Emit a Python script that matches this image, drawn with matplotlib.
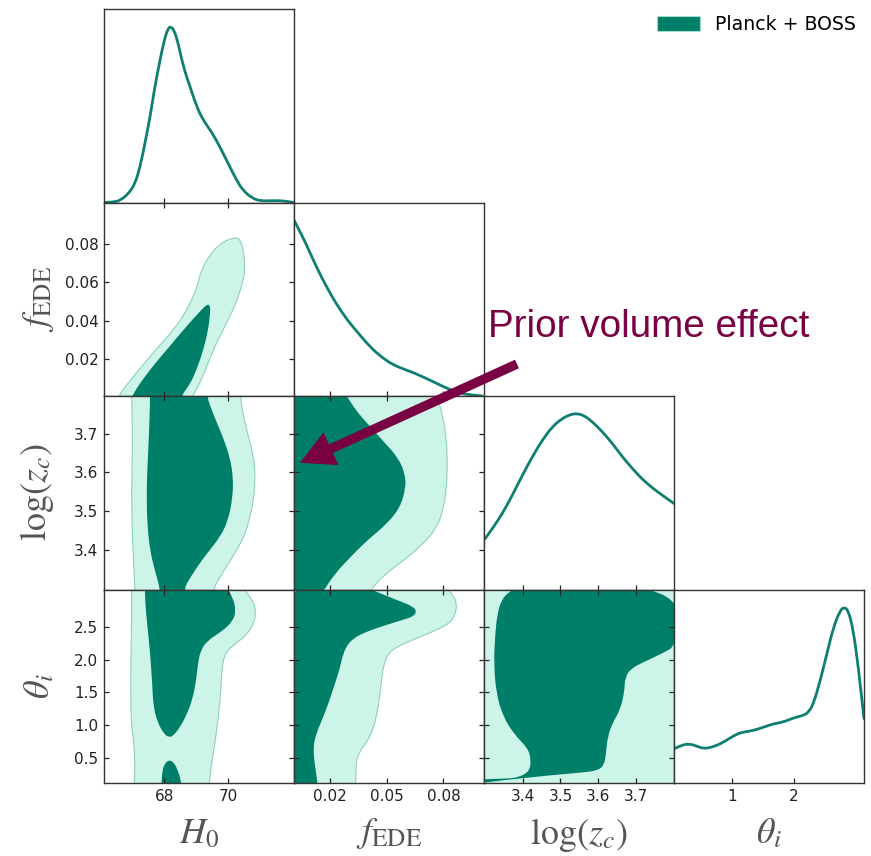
import numpy as np
import matplotlib.pyplot as plt
from matplotlib.path import Path
from matplotlib.patches import PathPatch, Patch, ConnectionPatch

plt.rcParams['mathtext.fontset'] = 'stix'
plt.rcParams['font.family'] = ['DejaVu Sans']

DARK = '#007f68'
LIGHT = '#cdf4e9'
EDGE = '#8fcfbe'
LINE = '#0f7f71'
ARROW = '#7a0044'
LABEL = '#555555'

# ---- axis ranges / ticks ----
h0_lim = (66.12, 72.06)
fede_xlim = (0.0009, 0.1015)
fede_ylim = (0.0004, 0.1019)
zc_xlim = (3.297, 3.8015)
zc_ylim = (3.297, 3.797)
th_xlim = (0.069, 3.135)
th_ylim = (0.109, 3.077)

h0_ticks = [68, 70]
fede_xticks = [0.02, 0.05, 0.08]
fede_yticks = [0.02, 0.04, 0.06, 0.08]
zc_ticks = [3.4, 3.5, 3.6, 3.7]
th_xticks = [1, 2]
th_yticks = [0.5, 1.0, 1.5, 2.0, 2.5]

# ---- 1D marginals (normalised to peak) ----
h0_grid = [66.12, 66.41, 66.62, 66.88, 67.09, 67.245, 67.40, 67.56, 67.71, 67.87,
           68.03, 68.13, 68.20, 68.31, 68.44, 68.60, 68.81, 69.02, 69.22, 69.485,
           69.745, 70.005, 70.27, 70.47, 70.735, 71.00, 71.41, 71.72, 72.06]
h0_pdf = [0.0, 0.002, 0.011, 0.049, 0.106, 0.2015, 0.335, 0.487, 0.658, 0.810,
          0.943, 0.990, 1.0, 0.981, 0.905, 0.772, 0.658, 0.544, 0.468, 0.401,
          0.316, 0.2205, 0.125, 0.068, 0.027, 0.008, 0.011, 0.0095, 0.0]

fede_grid = [0.00089, 0.0055, 0.00947, 0.01344, 0.01841, 0.02339, 0.02937, 0.0353,
             0.04128, 0.04726, 0.05324, 0.05923, 0.06516, 0.07114, 0.07712, 0.0831,
             0.08908, 0.09501, 0.10048]
fede_pdf = [1.0, 0.906, 0.812, 0.719, 0.615, 0.522, 0.428, 0.353, 0.278, 0.221,
            0.178, 0.152, 0.128, 0.099, 0.068, 0.038, 0.015, 0.006, 0.0]

zc_grid = [3.30, 3.3194, 3.3459, 3.3724, 3.3989, 3.4255, 3.4520, 3.4785, 3.5050,
           3.5273, 3.5448, 3.5626, 3.5846, 3.6111, 3.6377, 3.6642, 3.6907, 3.7172,
           3.7438, 3.7703, 3.8013]
zc_pdf = [0.289, 0.346, 0.432, 0.536, 0.650, 0.755, 0.850, 0.926, 0.973, 0.996,
          1.0, 0.989, 0.954, 0.897, 0.831, 0.755, 0.688, 0.627, 0.578, 0.536, 0.489]

th_grid = [0.074, 0.181, 0.315, 0.449, 0.555, 0.690, 0.823, 0.957, 1.091, 1.198,
           1.358, 1.518, 1.679, 1.839, 2.0, 2.160, 2.241, 2.321, 2.429, 2.536,
           2.642, 2.750, 2.814, 2.883, 2.963, 3.043, 3.135]
th_pdf = [0.195, 0.214, 0.2235, 0.208, 0.195, 0.2045, 0.2235, 0.252, 0.280, 0.290,
          0.299, 0.318, 0.337, 0.347, 0.371, 0.384, 0.403, 0.451, 0.583, 0.735,
          0.886, 0.981, 1.0, 0.981, 0.867, 0.659, 0.366]

# ---- 2D contours: 95% (outer) and 68% (inner) ----
# H0 - f_EDE
h0_fede_95_x = [66.55, 66.60, 66.72, 67.56, 68.50, 69.02, 69.12, 69.38, 69.74, 70.16,
                70.37, 70.48, 70.53, 70.45, 70.32, 70.11, 69.85, 69.59, 69.38, 69.17,
                69.02, 68.89, 68.86]
h0_fede_95_y = [-0.004, 0.0009, 0.0040, 0.0214, 0.0388, 0.0561, 0.0648, 0.0734, 0.0804,
                0.0835, 0.0830, 0.0769, 0.0665, 0.0596, 0.0526, 0.0440, 0.0353, 0.0266,
                0.0179, 0.0092, 0.0040, 0.0009, -0.004]
h0_fede_68_x = [66.95, 66.99, 67.56, 68.18, 68.70, 69.12, 69.36, 69.44, 69.44, 69.38,
                69.23, 69.02, 68.81, 68.55, 68.50]
h0_fede_68_y = [-0.004, 0.0009, 0.0144, 0.0266, 0.0370, 0.0448, 0.0488, 0.0475, 0.0440,
                0.0353, 0.0248, 0.0144, 0.0066, 0.0009, -0.004]

# H0 - log(z_c)
h0_zc_95_x = [66.98, 66.985, 67.005, 67.005, 66.985, 66.995, 67.036, 67.09, 67.10,
              69.50, 69.54, 69.745, 70.00, 70.32, 70.53, 70.68, 70.81, 70.85, 70.79,
              70.53, 70.37, 70.34]
h0_zc_95_y = [3.85, 3.797, 3.723, 3.637, 3.552, 3.466, 3.380, 3.300, 3.25,
              3.25, 3.300, 3.329, 3.363, 3.406, 3.440, 3.483, 3.534, 3.595, 3.646,
              3.723, 3.797, 3.85]
h0_zc_68_x = [67.56, 67.56, 67.54, 67.49, 67.45, 67.47, 67.56, 67.71, 67.87, 67.92,
              68.62, 68.65, 68.70, 69.02, 69.33, 69.745, 70.00, 70.14, 70.16, 70.06,
              69.85, 69.54, 69.33, 69.28]
h0_zc_68_y = [3.85, 3.797, 3.723, 3.637, 3.552, 3.466, 3.397, 3.346, 3.300, 3.25,
              3.25, 3.300, 3.312, 3.354, 3.389, 3.432, 3.475, 3.534, 3.586, 3.637,
              3.689, 3.749, 3.797, 3.85]

# f_EDE - log(z_c)
fede_zc_95_x = [0.0740, 0.0765, 0.0791, 0.0814, 0.0821, 0.0818, 0.0803, 0.0765, 0.0694,
                0.0588, 0.0482, 0.0421, 0.0395, -0.01, -0.01]
fede_zc_95_y = [3.826, 3.797, 3.757, 3.697, 3.637, 3.569, 3.509, 3.457, 3.415,
                3.372, 3.333, 3.300, 3.277, 3.277, 3.826]
fede_zc_68_x = [0.0249, 0.0288, 0.0341, 0.0403, 0.0482, 0.0562, 0.0597, 0.0601, 0.0571,
                0.0500, 0.0394, 0.0306, 0.0226, 0.0174, 0.0142, -0.01, -0.01]
fede_zc_68_y = [3.826, 3.797, 3.757, 3.723, 3.680, 3.637, 3.595, 3.560, 3.509,
                3.466, 3.423, 3.380, 3.338, 3.300, 3.277, 3.277, 3.826]

# H0 - theta_i
h0_th_95_x = [66.985, 66.985, 66.985, 66.964, 66.954, 66.964, 67.036, 67.09, 67.07, 67.06,
              69.39, 69.41, 69.49, 69.59, 69.69, 69.77, 69.81, 69.93, 70.21, 70.58,
              70.81, 70.87, 70.786, 70.473, 70.40]
h0_th_95_y = [3.2, 3.092, 2.639, 2.123, 1.608, 1.094, 0.784, 0.475, 0.114, 0.0,
              0.0, 0.114, 0.423, 0.732, 1.094, 1.505, 1.917, 2.123, 2.237, 2.381,
              2.562, 2.741, 2.896, 3.092, 3.2]
h0_th_68_x = [67.40, 69.85, 70.16, 70.245, 70.14, 69.80, 69.38, 69.14, 69.05, 68.995,
              68.89, 68.72, 68.495, 68.29, 68.15, 67.995, 67.79, 67.66, 67.63, 67.56,
              67.45, 67.40]
h0_th_68_y = [3.2, 3.2, 2.948, 2.741, 2.587, 2.432, 2.304, 2.149, 1.917, 1.659,
              1.403, 1.171, 0.964, 0.835, 0.809, 0.862, 1.041, 1.299, 1.608, 2.123,
              2.639, 2.948]
h0_th_68b_x = [67.91, 67.92, 67.94, 68.025, 68.16, 68.31, 68.42, 68.50, 68.53, 68.54]
h0_th_68b_y = [0.0, 0.104, 0.294, 0.413, 0.464, 0.423, 0.310, 0.191, 0.104, 0.0]

# f_EDE - theta_i
fede_th_95_x = [0.0800, 0.0818, 0.0856, 0.0871, 0.0863, 0.0835, 0.0765, 0.0659, 0.0553,
                0.0509, 0.0486, 0.0474, 0.0465, 0.0450, 0.0429, 0.0394, 0.0359, 0.0341,
                0.0336, 0.0336, 0.0336, -0.01, -0.01]
fede_th_95_y = [3.2, 3.092, 2.973, 2.845, 2.690, 2.562, 2.458, 2.330, 2.200,
                2.098, 1.944, 1.736, 1.480, 1.196, 0.939, 0.732, 0.604, 0.475,
                0.294, 0.104, 0.0, 0.0, 3.2]
fede_th_68_x = [0.0390, 0.0403, 0.0482, 0.0571, 0.0638, 0.0659, 0.0641, 0.0588, 0.0500,
                0.0394, 0.0323, 0.0285, 0.0265, 0.0249, 0.0223, 0.0191, 0.0156, 0.0126,
                0.0112, 0.0115, 0.0126, 0.0133, 0.0136, -0.01, -0.01]
fede_th_68_y = [3.2, 3.092, 2.999, 2.896, 2.818, 2.741, 2.664, 2.613, 2.536,
                2.432, 2.330, 2.200, 2.046, 1.840, 1.608, 1.325, 1.067, 0.862,
                0.681, 0.475, 0.268, 0.104, 0.0, 0.0, 3.2]

# log(z_c) - theta_i (95% region covers the whole panel)
zc_th_95_x = [2.9, 4.2, 4.2, 2.9]
zc_th_95_y = [-1.0, -1.0, 4.2, 4.2]
zc_th_68_x = [3.3955, 3.8111, 3.8111, 3.7668, 3.7225, 3.6873, 3.6714, 3.6695, 3.6589,
              3.6387, 3.6255, 3.6210, 3.6164, 3.5989, 3.5546, 3.4838, 3.4133, 3.3512,
              3.28, 3.28, 3.3512, 3.3867, 3.4175, 3.4220, 3.4133, 3.3777, 3.3469,
              3.3292, 3.3231, 3.3265, 3.3318, 3.3424, 3.3645]
zc_th_68_y = [3.143, 3.143, 2.226, 2.087, 1.968, 1.866, 1.727, 1.495, 1.237,
              1.032, 0.825, 0.568, 0.387, 0.299, 0.268, 0.233, 0.191, 0.155,
              0.10, 0.165, 0.175, 0.191, 0.284, 0.464, 0.645, 0.851, 1.134,
              1.495, 1.959, 2.370, 2.679, 2.911, 3.050]

H0_LAB = r'$H_0$'
FEDE_LAB = r'$f_{\rm EDE}$'
ZC_LAB = r'$\log(z_c)$'
TH_LAB = r'$\theta_i$'


def smooth_path(xs, ys, closed=True):
    pts = np.column_stack([xs, ys]).astype(float)
    n = len(pts)
    if closed:
        mids = (pts + np.roll(pts, -1, axis=0)) / 2
        verts = [mids[-1]]
        codes = [Path.MOVETO]
        for i in range(n):
            verts += [pts[i], mids[i]]
            codes += [Path.CURVE3, Path.CURVE3]
        verts.append(mids[-1])
        codes.append(Path.CLOSEPOLY)
    else:
        verts = [pts[0]]
        codes = [Path.MOVETO]
        for i in range(1, n - 1):
            verts += [pts[i], (pts[i] + pts[i + 1]) / 2]
            codes += [Path.CURVE3, Path.CURVE3]
        verts.append(pts[-1])
        codes.append(Path.LINETO)
    return Path(verts, codes)


def contours(ax, outer, inners):
    ax.add_patch(PathPatch(smooth_path(*outer), facecolor=LIGHT, edgecolor=EDGE, lw=0.8))
    for inner in inners:
        ax.add_patch(PathPatch(smooth_path(*inner), facecolor=DARK, edgecolor='none'))


def marginal(ax, x, p):
    ax.add_patch(PathPatch(smooth_path(x, p, closed=False), facecolor='none',
                           edgecolor=LINE, lw=2.0, capstyle='round'))
    ax.set_ylim(0, 1.1)
    ax.tick_params(left=False, right=False, top=False, labelleft=False)


fig = plt.figure(figsize=(8.71, 8.56), dpi=100)
W, H = 871.0, 856.0
x0, y0, cw, ch = 104.0, 9.0, 190.0, 193.5

axes = {}
for i in range(4):
    for j in range(i + 1):
        ax = fig.add_axes([(x0 + cw * j) / W, 1 - (y0 + ch * (i + 1)) / H, cw / W, ch / H])
        ax.tick_params(direction='in', length=3.6, width=0.9, top=True, right=True,
                       labelsize=11, pad=4, labelbottom=(i == 3), labelleft=(j == 0 and i > 0),
                       colors='#222222')
        for s in ax.spines.values():
            s.set_linewidth(1.0)
            s.set_color('#333333')
        axes[i, j] = ax

xlims = [h0_lim, fede_xlim, zc_xlim, th_xlim]
ylims = [None, fede_ylim, zc_ylim, th_ylim]
xticks = [h0_ticks, fede_xticks, zc_ticks, th_xticks]
xticklabels = [['68', '70'], ['0.02', '0.05', '0.08'], ['3.4', '3.5', '3.6', '3.7'], ['1', '2']]
yticks = [None, fede_yticks, zc_ticks, th_yticks]
yticklabels = [None, ['0.02', '0.04', '0.06', '0.08'], ['3.4', '3.5', '3.6', '3.7'],
               ['0.5', '1.0', '1.5', '2.0', '2.5']]

marginal(axes[0, 0], h0_grid, h0_pdf)
marginal(axes[1, 1], fede_grid, fede_pdf)
marginal(axes[2, 2], zc_grid, zc_pdf)
marginal(axes[3, 3], th_grid, th_pdf)

contours(axes[1, 0], (h0_fede_95_x, h0_fede_95_y), [(h0_fede_68_x, h0_fede_68_y)])
contours(axes[2, 0], (h0_zc_95_x, h0_zc_95_y), [(h0_zc_68_x, h0_zc_68_y)])
contours(axes[2, 1], (fede_zc_95_x, fede_zc_95_y), [(fede_zc_68_x, fede_zc_68_y)])
contours(axes[3, 0], (h0_th_95_x, h0_th_95_y),
         [(h0_th_68_x, h0_th_68_y), (h0_th_68b_x, h0_th_68b_y)])
contours(axes[3, 1], (fede_th_95_x, fede_th_95_y), [(fede_th_68_x, fede_th_68_y)])
contours(axes[3, 2], (zc_th_95_x, zc_th_95_y), [(zc_th_68_x, zc_th_68_y)])

for (i, j), ax in axes.items():
    ax.set_xlim(xlims[j])
    ax.set_xticks(xticks[j], xticklabels[j])
    if i != j:
        ax.set_ylim(ylims[i])
        ax.set_yticks(yticks[i], yticklabels[i])
    else:
        ax.set_yticks([])

labels = [H0_LAB, FEDE_LAB, ZC_LAB, TH_LAB]
for j in range(4):
    ax = axes[3, j]
    ax.set_xlabel(labels[j], fontsize=26, color=LABEL)
    ax.xaxis.set_label_coords(0.5, -0.17)
for i in range(1, 4):
    ax = axes[i, 0]
    ax.set_ylabel(labels[i], fontsize=26, color=LABEL)
    ax.yaxis.set_label_coords(-0.25, 0.5)

fig.legend(handles=[Patch(facecolor=DARK, edgecolor='#9fe0cf', lw=0.8, label='Planck + BOSS')],
           loc='upper right', bbox_to_anchor=(856 / W, 1 - 15 / H), frameon=False,
           fontsize=13.6, handlelength=2.3, handleheight=0.9, handletextpad=0.8,
           borderpad=0, borderaxespad=0)

fig.text(488 / W, 1 - 337 / H, 'Prior volume effect', fontsize=27.8, color=ARROW,
         family='Liberation Sans', va='baseline')

arrow = ConnectionPatch(xyA=(517 / W, 1 - 364 / H), coordsA='figure fraction',
                        xyB=(0.0041, 3.6244), coordsB='data', axesB=axes[2, 1],
                        arrowstyle='simple,head_length=24.5,head_width=26,tail_width=6.8',
                        mutation_scale=1, color=ARROW, lw=0, shrinkA=0, shrinkB=0, zorder=10)
fig.add_artist(arrow)

fig.savefig('out.png', dpi=100, facecolor='white')
